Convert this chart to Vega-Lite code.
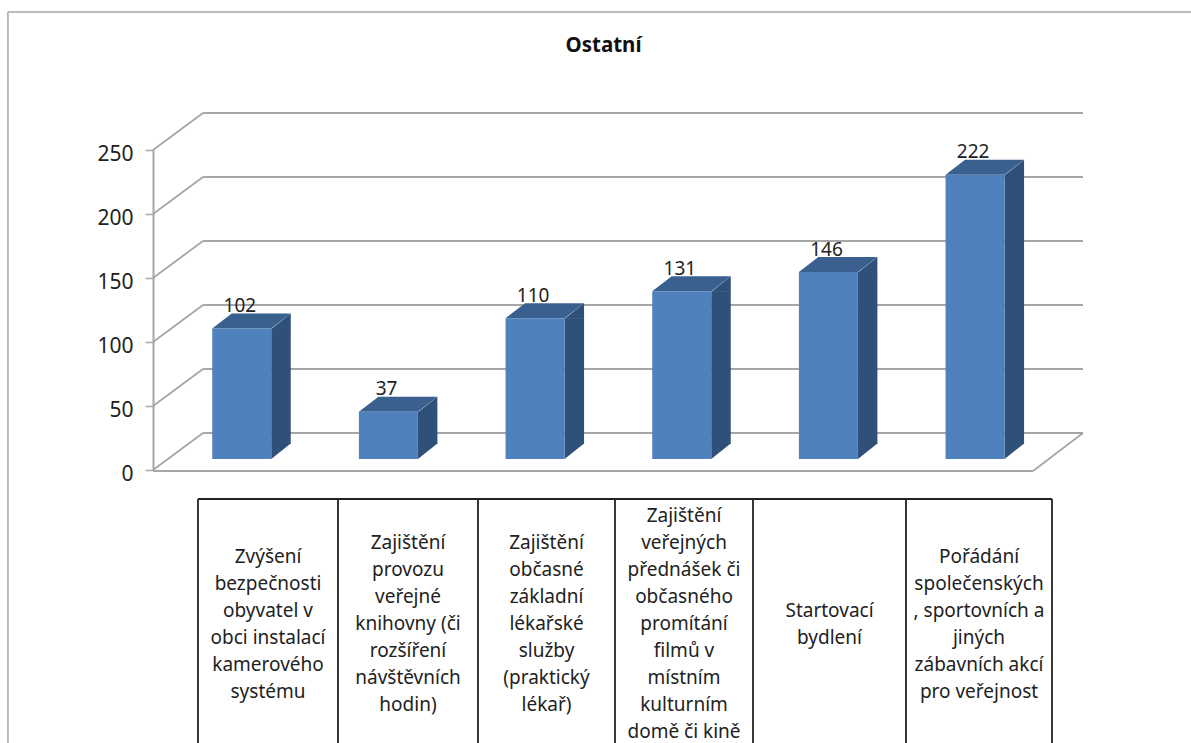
{"$schema":"https://vega.github.io/schema/vega-lite/v6.json","width":1191,"height":743,"autosize":"none","padding":0,"background":"white","title":{"text":"Ostatní","font":"Noto Sans","fontSize":20.5,"fontWeight":"bold","color":"#111","anchor":"middle","dx":8,"offset":-66,"baseline":"middle"},"config":{"view":{"stroke":null}},"datasets":{"bars":[{"slot":1,"value":102,"lines":6,"label":"Zvýšení\nbezpečnosti\nobyvatel v\nobci instalací\nkamerového\nsystému"},{"slot":2,"value":37,"lines":7,"label":"Zajištění\nprovozu\nveřejné\nknihovny (či\nrozšíření\nnávštěvních\nhodin)"},{"slot":3,"value":110,"lines":7,"label":"Zajištění\nobčasné\nzákladní\nlékařské\nslužby\n(praktický\nlékař)"},{"slot":4,"value":131,"lines":9,"label":"Zajištění\nveřejných\npřednášek či\nobčasného\npromítání\nfilmů v\nmístním\nkulturním\ndomě či kině"},{"slot":5,"value":146,"lines":2,"label":"Startovací\nbydlení"},{"slot":6,"value":222,"lines":6,"label":"Pořádání\nspolečenských\n, sportovních a\njiných\nzábavních akcí\npro veřejnost"}],"ticks":[{"v":0},{"v":50},{"v":100},{"v":150},{"v":200},{"v":250}],"edges":[{"edge":0.5},{"edge":1.5},{"edge":2.5},{"edge":3.5},{"edge":4.5},{"edge":5.5},{"edge":6.5}]},"layer":[{"layer":[{"data":{"name":"ticks"},"mark":{"type":"rule","stroke":"#A6A6A6","strokeWidth":1.8,"xOffset":50,"x2Offset":50,"yOffset":-37},"encoding":{"x":{"datum":0.5,"type":"quantitative","scale":{"domain":[0.5,6.5],"range":[153,1033],"nice":false,"zero":false,"padding":0},"axis":null},"x2":{"datum":6.5},"y":{"field":"v","type":"quantitative","scale":{"domain":[0,250],"range":[470,150],"nice":false,"padding":0},"axis":{"title":null,"values":[0,50,100,150,200,250],"offset":-153,"tickSize":8,"tickColor":"#A6A6A6","tickWidth":1.5,"domainColor":"#A6A6A6","domainWidth":2,"labelFont":"Noto Sans","labelFontSize":21,"labelColor":"#222","labelPadding":12,"labelOffset":4,"grid":false}}}},{"data":{"name":"ticks"},"mark":{"type":"point","filled":false,"opacity":1,"size":4,"stroke":"#A6A6A6","strokeWidth":1.8,"shape":"M0,0L50,-37"},"encoding":{"x":{"datum":0.5,"type":"quantitative"},"y":{"field":"v","type":"quantitative"}}},{"data":{"values":[{"v":0}]},"mark":{"type":"rule","stroke":"#A6A6A6","strokeWidth":2,"yOffset":1},"encoding":{"x":{"datum":0.5,"type":"quantitative"},"x2":{"datum":6.5},"y":{"field":"v","type":"quantitative"}}},{"data":{"values":[{"v":0}]},"mark":{"type":"point","filled":false,"opacity":1,"size":4,"stroke":"#A6A6A6","strokeWidth":1.8,"shape":"M0,1L50,-37"},"encoding":{"x":{"datum":6.5,"type":"quantitative"},"y":{"field":"v","type":"quantitative"}}},{"data":{"name":"bars"},"mark":{"type":"bar","orient":"vertical","width":19.5,"color":"#2F5078","xOffset":54.65,"yOffset":-11,"y2Offset":-26},"encoding":{"x":{"field":"slot","type":"quantitative"},"y":{"field":"value","type":"quantitative"},"y2":{"datum":0}}},{"data":{"name":"bars"},"mark":{"type":"point","filled":true,"opacity":1,"size":4,"color":"#2F5078","strokeWidth":0,"shape":"M44.9,-10.5L64.4,-26L64.4,-10.5Z"},"encoding":{"x":{"field":"slot","type":"quantitative"},"y":{"field":"value","type":"quantitative"}}},{"data":{"name":"bars"},"mark":{"type":"point","filled":true,"opacity":1,"size":4,"color":"#2F5078","strokeWidth":0,"shape":"M44.9,-26.5L64.4,-26.5L44.9,-11Z"},"encoding":{"x":{"field":"slot","type":"quantitative"},"y":{"datum":0,"type":"quantitative"}}},{"data":{"name":"bars"},"mark":{"type":"point","filled":true,"opacity":1,"size":4,"color":"#3A6090","strokeWidth":0,"shape":"M-14.1,-11L44.9,-11L64.4,-26L5.4,-26Z"},"encoding":{"x":{"field":"slot","type":"quantitative"},"y":{"field":"value","type":"quantitative"}}},{"data":{"name":"bars"},"mark":{"type":"bar","orient":"vertical","width":59,"color":"#4F81BD","xOffset":15.4,"yOffset":-11,"y2Offset":-11},"encoding":{"x":{"field":"slot","type":"quantitative"},"y":{"field":"value","type":"quantitative"},"y2":{"datum":0}}},{"data":{"name":"bars"},"mark":{"type":"text","font":"Noto Sans","fontSize":19,"color":"#222","baseline":"middle","align":"center","xOffset":13.5,"yOffset":-33.5},"encoding":{"x":{"field":"slot","type":"quantitative"},"y":{"field":"value","type":"quantitative"},"text":{"field":"value","type":"quantitative"}}},{"data":{"values":[{"v":0}]},"mark":{"type":"rule","stroke":"#A6A6A6","strokeWidth":1.5},"encoding":{"x":{"datum":-0.489,"type":"quantitative"},"x2":{"datum":7.6},"y":{"datum":357.8,"type":"quantitative"}}},{"data":{"values":[{"v":0}]},"mark":{"type":"rule","stroke":"#A6A6A6","strokeWidth":1.5},"encoding":{"x":{"datum":-0.489,"type":"quantitative"},"y":{"datum":357.8,"type":"quantitative"},"y2":{"datum":-230}}}]},{"layer":[{"data":{"name":"edges"},"mark":{"type":"rule","stroke":"#222","strokeWidth":1.8},"encoding":{"x":{"field":"edge","type":"quantitative","scale":{"domain":[0.5,1.5,2.5,3.5,4.5,5.5,6.5],"range":[198,338,478,615,753,906,1052],"nice":false,"zero":false},"axis":null},"y":{"datum":0,"type":"quantitative","scale":{"domain":[0,1],"range":[499,750],"nice":false},"axis":null},"y2":{"datum":1}}},{"data":{"values":[{"v":0}]},"mark":{"type":"rule","stroke":"#222","strokeWidth":2},"encoding":{"x":{"datum":0.5,"type":"quantitative"},"x2":{"datum":6.5},"y":{"datum":0,"type":"quantitative"}}}]},{"data":{"name":"bars"},"mark":{"type":"text","font":"Noto Sans","fontSize":19,"color":"#222","align":"center","baseline":"middle","lineBreak":"\n","lineHeight":27},"encoding":{"x":{"field":"slot","type":"quantitative","scale":{"domain":[0.5,1.5,2.5,3.5,4.5,5.5,6.5],"range":[198,338,478,615,753,906,1052],"nice":false,"zero":false},"axis":null},"y":{"field":"lines","type":"quantitative","scale":{"domain":[2,6,7,9],"range":[611,557,543,516],"nice":false,"zero":false},"axis":null},"text":{"field":"label","type":"nominal"}}}],"resolve":{"scale":{"x":"independent","y":"independent"}}}
